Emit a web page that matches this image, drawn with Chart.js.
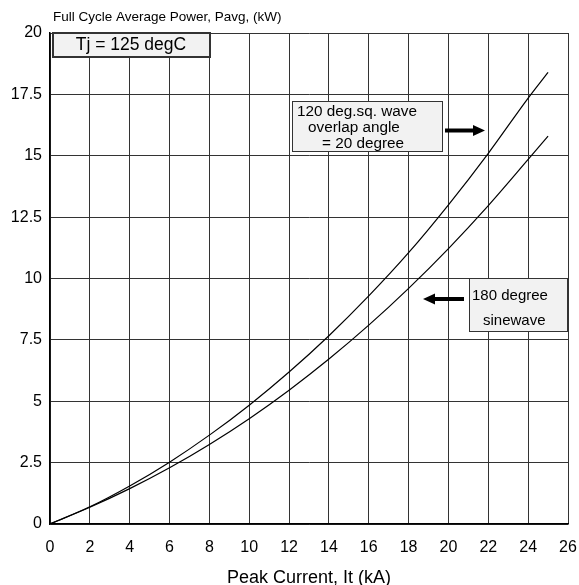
<!DOCTYPE html>
<html>
<head>
<meta charset="utf-8">
<script src="https://cdn.jsdelivr.net/npm/chart.js@4.4.0/dist/chart.umd.min.js"></script>
<style>
html, body { margin: 0; padding: 0; background: #fff; }
#wrap { width: 579px; height: 585px; }
</style>
</head>
<body>
<div id="wrap"><canvas id="myChart"></canvas></div>
<script>
// peak current (kA) and full cycle average power (kW)
var current = [0, 2, 4, 6, 8, 10, 12, 14, 16, 18, 20, 22, 24, 25]
var sqWave = [0, 0.7, 1.55, 2.52, 3.62, 4.84, 6.19, 7.67, 9.29, 11.05, 13.0, 15.1, 17.35, 18.4]
var sineWave = [0, 0.68, 1.44, 2.29, 3.24, 4.29, 5.45, 6.72, 8.1, 9.6, 11.22, 12.97, 14.85, 15.8]

var yTitle = "Full Cycle Average Power, Pavg, (kW)"
var xTitle = "Peak Current, It (kA)"
var tjLabel = "Tj = 125 degC"
var sqLabel = ["120 deg.sq. wave", "overlap angle", "= 20 degree"]
var sineLabel = ["180 degree", "sinewave"]

function pts(ys) {
    var out = []
    for (var i = 0; i < current.length; i++) out.push({ x: current[i], y: ys[i] })
    return out
}

var FONT = "Arial, 'Liberation Sans', sans-serif"

function box(ctx, x, y, w, h, lw) {
    ctx.fillStyle = "#f2f2f2"
    ctx.fillRect(x, y, w, h)
    ctx.strokeStyle = "#333"
    ctx.lineWidth = lw
    ctx.strokeRect(x, y, w, h)
}

function arrow(ctx, x1, x2, y) {
    var dir = x2 > x1 ? 1 : -1
    ctx.strokeStyle = "#000"
    ctx.fillStyle = "#000"
    ctx.lineWidth = 4
    ctx.beginPath()
    ctx.moveTo(x1, y)
    ctx.lineTo(x2 - dir * 9, y)
    ctx.stroke()
    ctx.beginPath()
    ctx.moveTo(x2, y)
    ctx.lineTo(x2 - dir * 12, y - 5.5)
    ctx.lineTo(x2 - dir * 12, y + 5.5)
    ctx.closePath()
    ctx.fill()
}

var notes = {
    id: "notes",
    afterDatasetsDraw: function (chart) {
        var ctx = chart.ctx
        ctx.save()
        ctx.fillStyle = "#000"
        ctx.font = "13.5px " + FONT
        ctx.textAlign = "left"
        ctx.textBaseline = "alphabetic"
        ctx.fillText(yTitle, 53, 21)

        box(ctx, 53, 33, 157, 24, 2)
        ctx.fillStyle = "#000"
        ctx.font = "17.5px " + FONT
        ctx.textAlign = "center"
        ctx.textBaseline = "middle"
        ctx.fillText(tjLabel, 131, 45.5)

        box(ctx, 292.5, 101.5, 150, 50, 1)
        ctx.fillStyle = "#000"
        ctx.font = "15.3px " + FONT
        ctx.textAlign = "left"
        ctx.fillText(sqLabel[0], 297, 112)
        ctx.fillText(sqLabel[1], 308, 128)
        ctx.fillText(sqLabel[2], 322, 144)
        arrow(ctx, 445, 485, 130.5)

        box(ctx, 469.5, 278.5, 98, 53, 1)
        ctx.fillStyle = "#000"
        ctx.font = "15px " + FONT
        ctx.fillText(sineLabel[0], 472, 296)
        ctx.fillText(sineLabel[1], 483, 321)
        arrow(ctx, 464, 423, 299)
        ctx.restore()
    }
}

var myChart = document.getElementById("myChart").getContext("2d")

var chart = new Chart(myChart, {
    type: "scatter",
    data: {
        datasets: [
            {
                label: sqLabel.join(" "),
                data: pts(sqWave),
                showLine: true,
                borderColor: "#000",
                borderWidth: 1.2,
                pointRadius: 0,
                cubicInterpolationMode: "monotone",
            },
            {
                label: sineLabel.join(" "),
                data: pts(sineWave),
                showLine: true,
                borderColor: "#000",
                borderWidth: 1.2,
                pointRadius: 0,
                cubicInterpolationMode: "monotone",
            },
        ]
    },
    options: {
        responsive: true,
        maintainAspectRatio: false,
        animation: false,
        layout: { padding: { top: 33, right: 0, left: 0, bottom: 0 } },
        plugins: { legend: { display: false }, tooltip: { enabled: false } },
        scales: {
            x: {
                type: "linear",
                min: 0,
                max: 26,
                afterFit: function (s) {
                    s.height = 61
                    s.paddingLeft = 0
                    s.paddingRight = 11
                },
                ticks: { stepSize: 2, color: "#000", padding: 14, font: { size: 16, family: FONT } },
                grid: { color: "#333", lineWidth: 1, drawTicks: false },
                border: { color: "#000", width: 1.5 },
                title: { display: true, text: xTitle, color: "#000", font: { size: 18, family: FONT, lineHeight: 0.8 }, padding: { top: 0, bottom: 0 } }
            },
            y: {
                min: 0,
                max: 20,
                afterFit: function (s) { s.width = 50 },
                ticks: { stepSize: 2.5, color: "#000", padding: 8, font: { size: 16, family: FONT } },
                grid: { color: "#333", lineWidth: 1, drawTicks: false },
                border: { color: "#000", width: 1.5 }
            }
        }
    },
    plugins: [notes]
})
</script>
</body>
</html>
